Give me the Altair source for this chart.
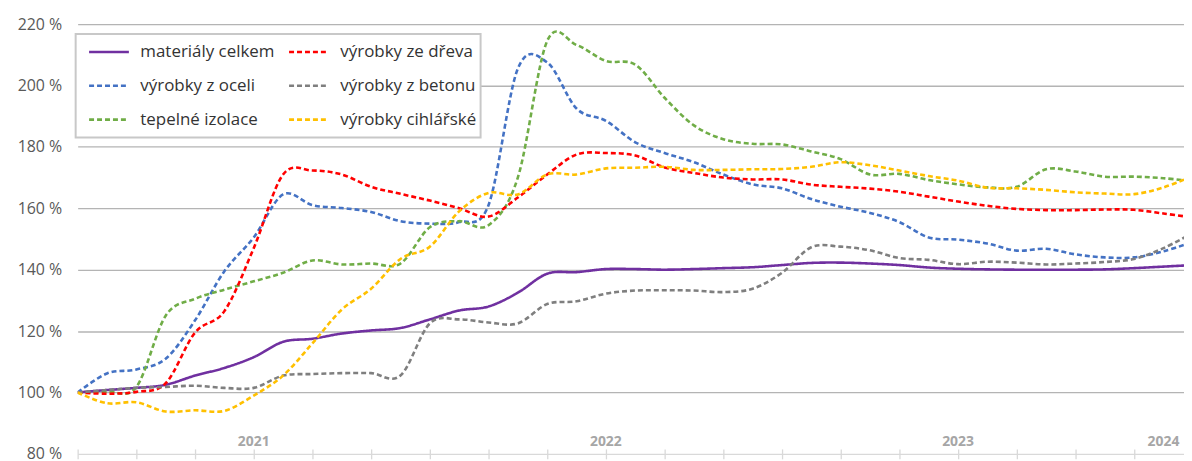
import altair as alt
import pandas as pd

# month index 0 = first month of 2021 (index base = 100 %)
months = list(range(39))

# legend is filled column by column: first column, then second column
series_names = ["materiály celkem", "výrobky z oceli", "tepelné izolace",
                "výrobky ze dřeva", "výrobky z betonu", "výrobky cihlářské"]
series_colors = ["#7030A0", "#4472C4", "#70AD47", "#FF0000", "#7F7F7F", "#FFC000"]
series_dashes = [[1, 0], [5, 3], [5, 3], [5, 3], [5, 3], [5, 3]]

materialy = [100, 100.8, 101.5, 102.5, 105.5, 108, 111.5, 116.5, 117.5, 119.2, 120.2, 121,
             123.8, 126.7, 128, 132.5, 138.7, 139.2, 140.2, 140.2, 140, 140.2, 140.5, 140.8,
             141.5, 142.2, 142.3, 142, 141.5, 140.7, 140.3, 140.1, 140, 140, 140, 140.1,
             140.5, 141, 141.5]
ocel = [100, 106.2, 107.5, 111, 123.5, 139.5, 150.5, 164.5, 161, 160.1, 158.8, 155.8,
        155, 155.5, 161, 205.5, 207.5, 192.5, 188.5, 181.5, 178, 175, 171, 167.8,
        166.5, 163, 160.5, 158.5, 155.5, 150.5, 149.8, 148.5, 146.2, 146.8, 145, 144,
        144, 146, 149]
izolace = [100, 100.3, 101.8, 125, 130.5, 133.5, 136.2, 139, 143, 141.7, 142, 142,
           153.8, 155.8, 154.5, 170, 214.5, 213.2, 208, 206.8, 196, 187, 182.5, 181,
           180.8, 178.5, 176, 171, 171.2, 169.2, 167.8, 166.8, 167, 172.7, 172, 170.3,
           170.3, 169.8, 168.8]
drevo = [100, 99.6, 100.2, 103, 119.5, 126.5, 147, 171, 172.3, 171, 167, 164.7,
         162.5, 160, 157.3, 163.5, 171, 177.5, 178, 177.2, 173.3, 171.5, 170, 169.4,
         169.4, 167.7, 167, 166.4, 165.4, 163.8, 162.2, 160.8, 159.8, 159.4, 159.4, 159.6,
         159.5, 158.3, 157]
beton = [100, 100.8, 101.5, 101.8, 102.2, 101.5, 101.5, 105.5, 106, 106.3, 106.3, 105.5,
         122.5, 123.8, 122.8, 122.5, 128.8, 129.7, 132.2, 133.2, 133.3, 133.2, 132.7, 133.8,
         139, 147.3, 147.5, 146.3, 143.8, 143.2, 141.8, 142.6, 142.3, 141.7, 142, 142.5,
         143.5, 147, 152]
cihly = [100, 96.5, 96.8, 93.8, 94.2, 94, 99, 105.5, 116, 127, 133.8, 143.5,
         147.5, 159, 165, 164.5, 171, 171, 173, 173.2, 173.5, 172.5, 172.5, 172.7,
         172.8, 173.5, 175, 174, 172.3, 170.5, 169, 166.7, 166.5, 166, 165.2, 164.8,
         164.6, 166.8, 170.5]

year_labels = ["2021", "2022", "2023", "2024"]
year_positions = [6, 18, 30, 37]

y_ticks = [80, 100, 120, 140, 160, 180, 200, 220]
x_ticks = list(range(38))

all_series = [materialy, ocel, izolace, drevo, beton, cihly]
rows = []
for name, vals in zip(series_names, all_series):
    for m, v in zip(months, vals):
        rows.append({"m": m, "v": v, "s": name})
df = pd.DataFrame(rows)
years_df = pd.DataFrame({"pos": year_positions, "label": year_labels})

FONT = "Open Sans"

x_enc = alt.X("m:Q",
              scale=alt.Scale(domain=[0, 37.7], nice=False, zero=False),
              axis=alt.Axis(values=x_ticks, labels=False, grid=False, domain=False,
                            ticks=True, tickColor="#d9d9d9", tickSize=10, tickWidth=1.3,
                            offset=-5, title=None))
y_enc = alt.Y("v:Q",
              scale=alt.Scale(domain=[80, 220], nice=False, zero=False),
              axis=alt.Axis(values=y_ticks, labelExpr="datum.value + ' %'",
                            gridColor={"condition": {"test": "datum.value === 80", "value": "#d9d9d9"},
                                       "value": "#b4b4b4"},
                            gridWidth=1.3, domain=False, ticks=False, labelPadding=16,
                            labelFont=FONT, labelFontSize=16, labelColor="#595959", title=None))

legend_opts = dict(title=None, orient="none", legendX=-2, legendY=10, columns=2)

lines = alt.Chart(df).mark_line(interpolate="cardinal", clip=True, strokeWidth=2.6).encode(
    x=x_enc,
    y=y_enc,
    color=alt.Color("s:N", scale=alt.Scale(domain=series_names, range=series_colors),
                    legend=alt.Legend(**legend_opts)),
    strokeDash=alt.StrokeDash("s:N", scale=alt.Scale(domain=series_names, range=series_dashes),
                              legend=alt.Legend(**legend_opts)),
)

year_text = alt.Chart(years_df).mark_text(font=FONT, fontSize=14, fontWeight="bold",
                                          color="#a6a6a6", baseline="middle").encode(
    x=alt.X("pos:Q"),
    y=alt.value(420),
    text="label:N",
)

chart = alt.layer(lines, year_text).properties(
    width=1112, height=432,
    autosize=alt.AutoSizeParams(type="none"),
    padding={"left": 70, "top": 15, "right": 0, "bottom": 7},
    background="white",
).configure_view(stroke=None).configure_legend(
    padding=4, symbolOffset=8, clipHeight=28, rowPadding=6, columnPadding=5,
    symbolSize=1600, symbolType="stroke", symbolStrokeWidth=2.6,
    labelFont=FONT, labelFontSize=17, labelColor="#333333", labelOffset=10, labelLimit=0,
    fillColor="white", strokeColor="#c8c8c8", strokeWidth=2, cornerRadius=0,
)

chart.save("out.html", embed_options={"renderer": "svg", "actions": False})
